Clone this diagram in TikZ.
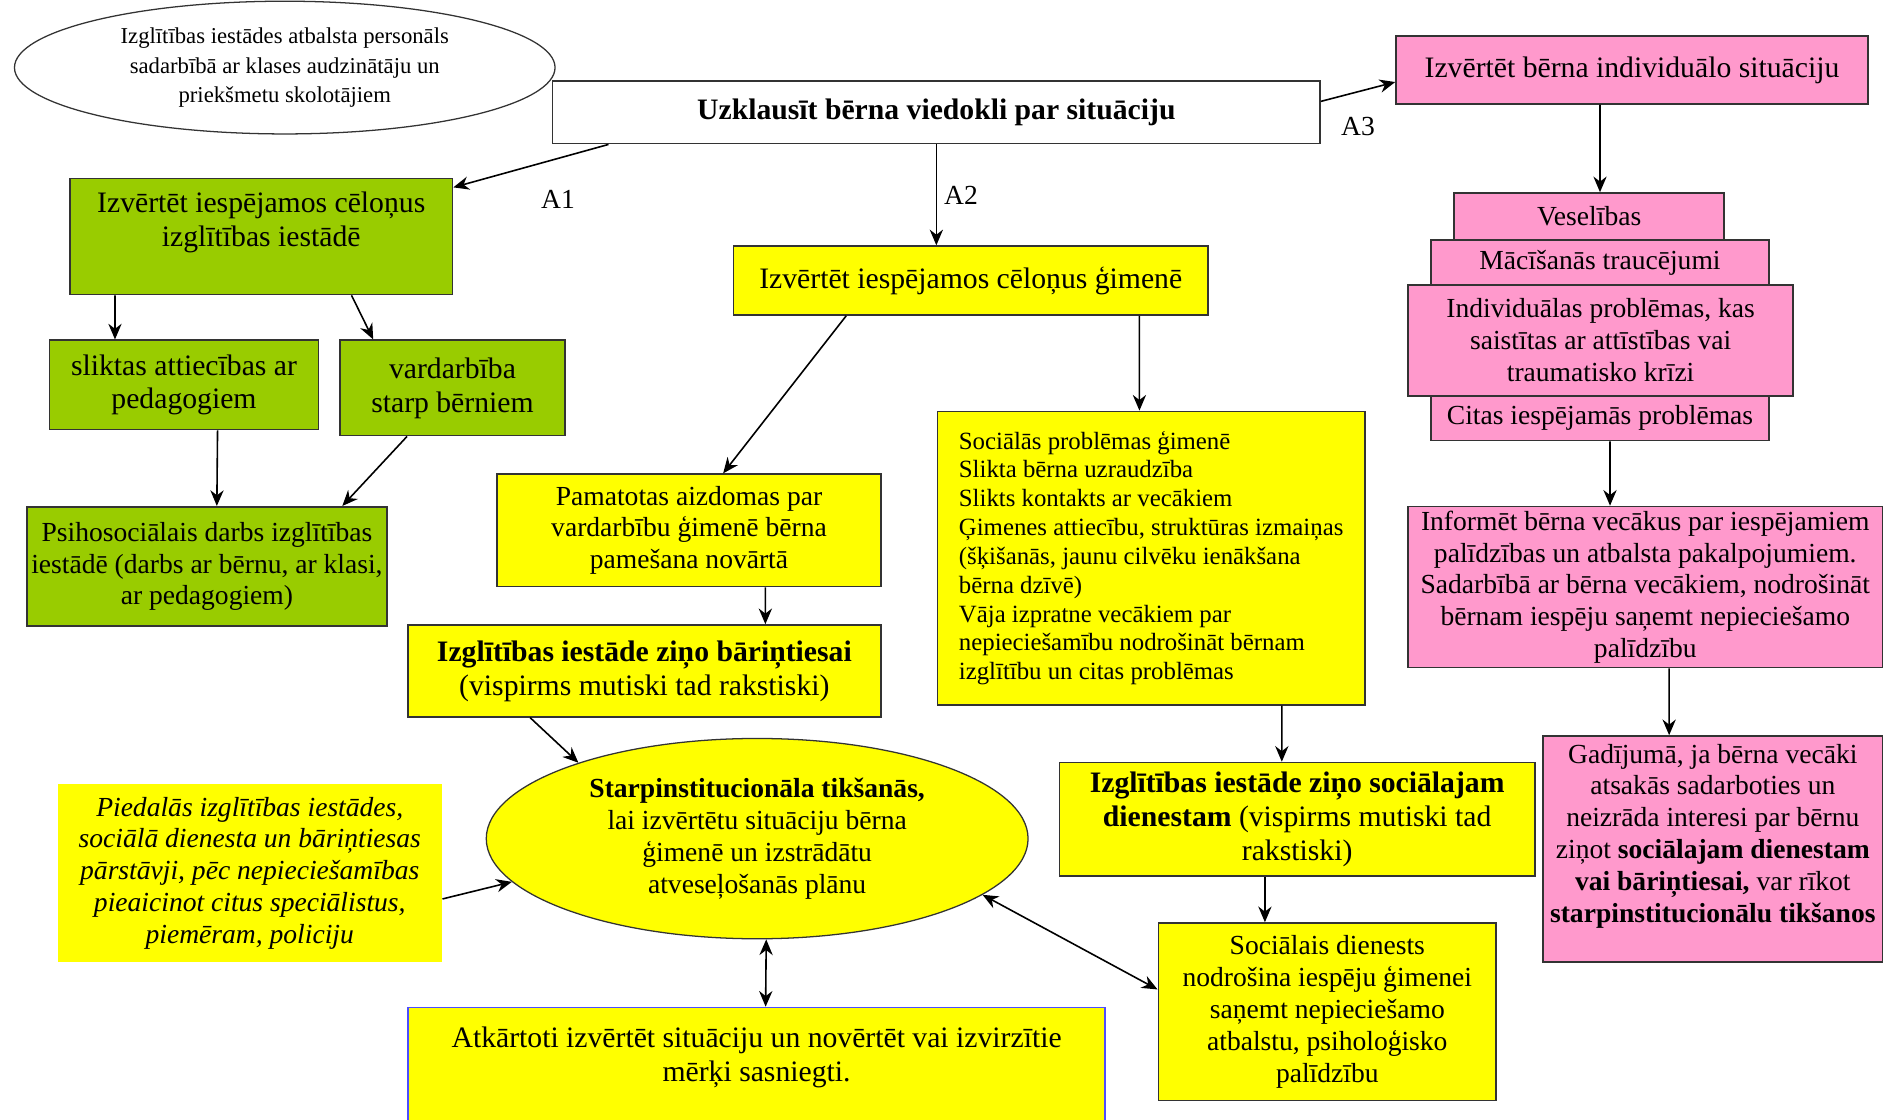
\documentclass[tikz,border=0pt]{standalone}
\usepackage{fontspec}
\setmainfont{Liberation Serif}
\usepackage{tikz}
\usetikzlibrary{arrows.meta}
\usetikzlibrary{shapes.geometric}
\usetikzlibrary{positioning}
\definecolor{grn}{HTML}{99CC00}
\definecolor{yel}{HTML}{FFFF00}
\definecolor{pnk}{HTML}{FF99CC}
\definecolor{blu}{HTML}{4D4DFF}
\newcommand{\fbig}{\fontsize{14}{16}\selectfont}
\newcommand{\fmid}{\fontsize{13}{15}\selectfont}
\newcommand{\fsml}{\fontsize{11.7}{13.6}\selectfont}
\newcommand{\ftny}{\fontsize{10.7}{13.9}\selectfont}
\tikzset{
  box/.style={draw=black!80, line width=0.8pt, rectangle, align=center, inner sep=2pt},
  oval/.style={draw=black!80, line width=0.6pt, ellipse, align=center, inner sep=0pt},
  grnbox/.style={box, fill=grn},
  yelbox/.style={box, fill=yel},
  pnkbox/.style={box, fill=pnk},
}

\begin{document}
\begin{tikzpicture}[->, >={Stealth[length=2.6mm,width=2.2mm]}, line width=0.75pt]
    \useasboundingbox (0,0) rectangle (31.36,-18.56);

    \node[oval, fill=white, font=\ftny, minimum width=8.96cm, minimum height=2.2cm] (0) at (4.72, -1.12) {Izglītības iestādes atbalsta personāls\\ sadarbībā ar klases audzinātāju un\\ priekšmetu skolotājiem};
    \node[box, fill=white, font=\fbig\bfseries, minimum width=12.72cm, minimum height=1.04cm] (1) at (15.52, -1.86) {Uzklausīt bērna viedokli par situāciju};
    \node[pnkbox, font=\fbig, minimum width=7.82cm, minimum height=1.12cm] (2) at (27.05, -1.16) {Izvērtēt bērna individuālo situāciju};

    \node[grnbox, font=\fbig, minimum width=6.34cm, minimum height=1.92cm] (3) at (4.33, -3.92) {Izvērtēt iespējamos cēloņus\\ izglītības iestādē\\ \mbox{}};
    \node[grnbox, font=\fbig, minimum width=4.46cm, minimum height=1.48cm] (4) at (3.05, -6.38) {sliktas attiecības ar\\ pedagogiem};
    \node[grnbox, font=\fbig, minimum width=3.72cm, minimum height=1.58cm] (5) at (7.5, -6.43) {vardarbība\\ starp bērniem};
    \node[grnbox, font=\fmid, minimum width=5.94cm, minimum height=1.98cm] (6) at (3.43, -9.39) {Psihosociālais darbs izglītības\\ iestādē (darbs ar bērnu, ar klasi,\\ ar pedagogiem)};

    \node[yelbox, font=\fbig, minimum width=7.86cm, minimum height=1.14cm] (7) at (16.09, -4.65) {Izvērtēt iespējamos cēloņus ģimenē};
    \node[yelbox, font=\fmid, minimum width=6.36cm, minimum height=1.86cm] (8) at (11.42, -8.79) {Pamatotas aizdomas par\\ vardarbību ģimenē bērna\\ pamešana novārtā};
    \node[yelbox, font=\fbig, minimum width=7.84cm, minimum height=1.52cm] (9) at (10.68, -11.12) {\textbf{Izglītības iestāde ziņo bāriņtiesai}\\ (vispirms mutiski tad rakstiski)};
    \node[yelbox, font=\fsml, align=left, minimum width=7.08cm, minimum height=4.86cm] (10) at (19.08, -9.25) {Sociālās problēmas ģimenē\\ Slikta bērna uzraudzība\\ Slikts kontakts ar vecākiem\\ Ģimenes attiecību, struktūras izmaiņas\\ (šķišanās, jaunu cilvēku ienākšana\\ bērna dzīvē)\\ Vāja izpratne vecākiem par\\ nepieciešamību nodrošināt bērnam\\ izglītību un citas problēmas};
    \node[yelbox, font=\fbig, minimum width=7.88cm, minimum height=1.88cm] (11) at (21.5, -13.58) {\textbf{Izglītības iestāde ziņo sociālajam}\\ \textbf{dienestam} (vispirms mutiski tad\\ rakstiski)};
    \node[yelbox, font=\fmid, minimum width=5.6cm, minimum height=2.94cm] (12) at (22.0, -16.77) {Sociālais dienests\\ nodrošina iespēju ģimenei\\ saņemt nepieciešamo\\ atbalstu, psiholoģisko\\ palīdzību};
    \node[oval, fill=yel, font=\fmid, minimum width=8.98cm, minimum height=3.32cm] (13) at (12.55, -13.9) {\textbf{Starpinstitucionāla tikšanās,}\\ lai izvērtētu situāciju bērna\\ ģimenē un izstrādātu\\ atveseļošanās plānu};
    \node[rectangle, fill=yel, align=center, font=\fmid\itshape, minimum width=6.36cm, minimum height=2.94cm] (14) at (4.14, -14.47) {Piedalās izglītības iestādes,\\ sociālā dienesta un bāriņtiesas\\ pārstāvji, pēc nepieciešamības\\ pieaicinot citus speciālistus,\\ piemēram, policiju};
    \node[yelbox, draw=blu, font=\fbig, minimum width=11.56cm, minimum height=2.1cm] (15) at (12.54, -17.75) {Atkārtoti izvērtēt situāciju un novērtēt vai izvirzītie\\ mērķi sasniegti.\\ \mbox{}};

    \node[pnkbox, font=\fmid, minimum width=4.48cm, minimum height=0.78cm] (16) at (26.34, -3.59) {Veselības};
    \node[pnkbox, font=\fmid, minimum width=5.6cm, minimum height=0.74cm] (17) at (26.52, -4.35) {Mācīšanās traucējumi};
    \node[pnkbox, font=\fmid, minimum width=6.38cm, minimum height=1.84cm] (18) at (26.53, -5.64) {Individuālas problēmas, kas\\ saistītas ar attīstības vai\\ traumatisko krīzi};
    \node[pnkbox, font=\fmid, minimum width=5.6cm, minimum height=0.74cm] (19) at (26.52, -6.93) {Citas iespējamās problēmas};
    \node[pnkbox, font=\fmid, minimum width=7.86cm, minimum height=2.66cm] (20) at (27.27, -9.73) {Informēt bērna vecākus par iespējamiem\\ palīdzības un atbalsta pakalpojumiem.\\ Sadarbībā ar bērna vecākiem, nodrošināt\\ bērnam iespēju saņemt nepieciešamo\\ palīdzību};
    \node[pnkbox, font=\fmid, minimum width=5.62cm, minimum height=3.74cm] (21) at (28.39, -14.07) {Gadījumā, ja bērna vecāki\\ atsakās sadarboties un\\ neizrāda interesi par bērnu\\ ziņot \textbf{sociālajam dienestam}\\ \textbf{vai bāriņtiesai,} var rīkot\\ \textbf{starpinstitucionālu tikšanos}\\ \mbox{}};

    % Edges
    \draw ([xshift=0.94cm]1.south west) -- ([yshift=-0.16cm]3.north east) node[midway, below right=0.27cm and 0.04cm, font=\fmid] {A1};
    \draw (1.south) -- (1.south |- 7.north) node[midway, right, font=\fmid] {A2};
    \draw ([yshift=0.18cm]1.east) -- ([yshift=-0.2cm]2.west) node[midway, below=0.3cm, font=\fmid] {A3};
    \draw ([xshift=-0.53cm]2.south) -- ([xshift=0.18cm]16.north);
    \draw ([xshift=0.76cm]3.south west) -- ([xshift=1.1cm]4.north west);
    \draw ([xshift=4.68cm]3.south west) -- ([xshift=0.56cm]5.north west);
    \draw ([xshift=2.8cm]4.south west) -- ([xshift=3.16cm]6.north west);
    \draw ([xshift=1.12cm]5.south west) -- ([xshift=5.24cm]6.north west);
    \draw ([xshift=1.88cm]7.south west) -- ([xshift=3.76cm]8.north west);
    \draw ([xshift=6.74cm]7.south west) -- ([xshift=3.36cm]10.north west);
    \draw ([xshift=4.46cm]8.south west) -- ([xshift=5.94cm]9.north west);
    \draw ([xshift=2.04cm]9.south west) -- (13.157);
    \draw ([xshift=5.72cm]10.south west) -- ([xshift=3.7cm]11.north west);
    \draw ([xshift=3.42cm]11.south west) -- ([xshift=1.78cm]12.north west);
    \draw[<->] ([yshift=0.37cm]12.west) -- (13.346);
    \draw ([yshift=-0.43cm]14.east) -- (13.190);
    \draw[<->] ([xshift=0.15cm]13.south) -- ([xshift=0.15cm]15.north);
    \draw ([xshift=2.98cm]19.south west) -- ([xshift=3.36cm]20.north west);
    \draw ([xshift=4.34cm]20.south west) -- ([xshift=2.1cm]21.north west);

\end{tikzpicture}
\end{document}
